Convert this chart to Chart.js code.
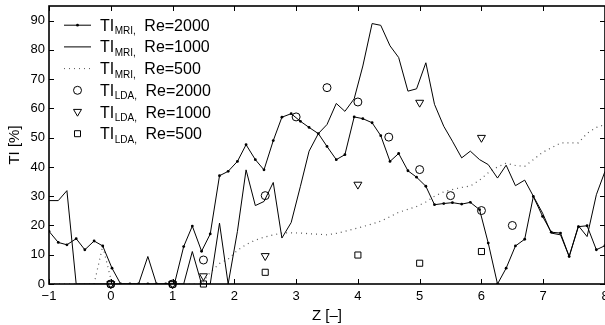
<!DOCTYPE html>
<html><head><meta charset="utf-8">
<script src="https://cdn.jsdelivr.net/npm/chart.js@4/dist/chart.umd.min.js"></script>
<style>html,body{margin:0;padding:0;background:#fff}canvas{display:block}</style>
</head><body>
<canvas id="c" width="605" height="325"></canvas>
<script>
// ---- data ----
const zMRI = [-1.00,-0.85,-0.71,-0.56,-0.42,-0.27,-0.13,0.02,0.16,0.31,0.45,0.60,0.74,0.89,1.03,1.18,1.32,1.47,1.61,1.76,1.90,2.05,2.19,2.34,2.48,2.63,2.77,2.92,3.07,3.21,3.36,3.50,3.65,3.79,3.94,4.08,4.23,4.37,4.52,4.66,4.81,4.95,5.10,5.24,5.39,5.53,5.68,5.82,5.97,6.11,6.26,6.40,6.55,6.70,6.84,6.99,7.13,7.28,7.42,7.57,7.71,7.86,8.00];
const tiMRI2000 = [18,14.2,13.4,15.5,11.7,14.7,13,5.4,0,0,0,0,0,0,0,12.8,19.8,11.2,17.1,37,38.5,41.9,47.6,42.5,39,49,57,58.2,55.6,53.5,51.4,47,42.5,44.2,57.1,56.5,55.1,50.7,41.9,44.6,38.7,36.5,33.4,27.1,27.5,27.8,27.3,27.9,25.4,14,0,5.4,13,15.3,29.9,23.1,17.7,17.4,9.4,19.6,19.9,11.7,13.1];
const tiMRI1000 = [28.5,28.5,31.9,0,0,0,0,0,0,0,0,9.4,0,0,0,0,11.1,0,0,20.8,0,18,39,26.8,28.2,34.7,15.7,21,33.4,45.4,51.4,54.5,61.7,59,63.3,74.5,89,88.4,81.4,77.4,65.9,66.7,75.6,61.4,53.9,48.8,43.1,45.4,42.5,40.8,36.2,40.6,33.6,35.5,30,24.2,17.4,16.8,9.4,19.9,16.2,30.5,38.5];
const tiMRI500 = [0,0,0,0,0,0,13,0,0,0,0,0,0,0,0,0,0,0,4,7,8.5,11.5,13.5,15,16,16.8,17.4,17.5,17.4,17.2,17,16.8,17.3,18,18.8,19.6,20.5,21.5,23,24.5,25.5,26.5,28,30,31.5,32.3,33,33.5,35.5,38,40,41.3,40.5,40.2,42.5,45,46.5,48.2,48.2,48.2,51.5,53.5,54.5];
const zLDA2000 = [0,1,1.5,2.5,3,3.5,4,4.5,5,5.5,6,6.5];
const tiLDA2000 = [0,0,8.2,30.2,57.1,67.1,62.2,50.2,39.1,30.2,25.1,20];
const zLDA = [0,1,1.5,2.5,4,5,6];
const tiLDA1000 = [0,0,2.7,9.6,34,62,50];
const tiLDA500 = [0,0,0,4,9.9,7.1,11.1];
const xTicks = [-1,0,1,2,3,4,5,6,7,8];
const yTicks = [0,10,20,30,40,50,60,70,80,90];
const xTitle = 'Z [\u2013]';
const yTitle = 'TI [%]';
const legendRows = [
  {main:'TI', sub:'MRI', rest:'Re=2000', style:'lineDot'},
  {main:'TI', sub:'MRI', rest:'Re=1000', style:'line'},
  {main:'TI', sub:'MRI', rest:'Re=500', style:'dotted'},
  {main:'TI', sub:'LDA', rest:'Re=2000', style:'circle'},
  {main:'TI', sub:'LDA', rest:'Re=1000', style:'triangle'},
  {main:'TI', sub:'LDA', rest:'Re=500', style:'square'}
];

const FONT = '"Liberation Sans", Arial, Helvetica, sans-serif';
const pts = (xs, ys) => xs.map((x, i) => ({x: x, y: ys[i]}));

function drawMarker(ctx, style, x, y) {
  ctx.beginPath();
  if (style === 'circle') {
    ctx.arc(x, y, 4, 0, Math.PI * 2);
  } else if (style === 'triangle') {
    ctx.moveTo(x - 4, y - 2.6); ctx.lineTo(x + 4, y - 2.6); ctx.lineTo(x, y + 4.2); ctx.closePath();
  } else if (style === 'square') {
    ctx.rect(x - 3, y - 3, 6, 6);
  }
  ctx.stroke();
}

const framePlugin = {
  id: 'frame',
  afterDraw(chart) {
    const ctx = chart.ctx;
    const {left, right, top, bottom} = chart.chartArea;
    const xs = chart.scales.x, ys = chart.scales.y;
    ctx.save();
    ctx.strokeStyle = '#000';
    ctx.lineWidth = 1.6;
    ctx.strokeRect(left, top, right - left, bottom - top);
    ctx.lineWidth = 1;
    ctx.beginPath();
    xTicks.forEach(v => {
      const p = Math.round(xs.getPixelForValue(v)) + 0.5;
      ctx.moveTo(p, bottom); ctx.lineTo(p, bottom - 5);
      ctx.moveTo(p, top); ctx.lineTo(p, top + 5);
    });
    yTicks.forEach(v => {
      const p = Math.round(ys.getPixelForValue(v)) + 0.5;
      ctx.moveTo(left, p); ctx.lineTo(left + 5, p);
      ctx.moveTo(right, p); ctx.lineTo(right - 5, p);
    });
    ctx.stroke();

    // axis titles
    ctx.fillStyle = '#000';
    ctx.font = '15px ' + FONT;
    ctx.textAlign = 'center';
    ctx.textBaseline = 'middle';
    ctx.fillText(xTitle, (left + right) / 2, 316);
    ctx.save();
    ctx.translate(15, (top + bottom) / 2);
    ctx.rotate(-Math.PI / 2);
    ctx.fillText(yTitle, 0, 0);
    ctx.restore();

    // legend
    ctx.textAlign = 'left';
    ctx.textBaseline = 'alphabetic';
    legendRows.forEach((r, k) => {
      const base = 30.7 + 21.7 * k;
      const mid = base - 5.5;
      ctx.lineWidth = 1;
      ctx.strokeStyle = '#000';
      if (r.style === 'lineDot' || r.style === 'line') {
        ctx.beginPath(); ctx.moveTo(64, mid); ctx.lineTo(91, mid); ctx.stroke();
        if (r.style === 'lineDot') { ctx.beginPath(); ctx.arc(77.5, mid, 1.4, 0, Math.PI * 2); ctx.fillStyle = '#000'; ctx.fill(); }
      } else if (r.style === 'dotted') {
        ctx.save(); ctx.strokeStyle = '#555'; ctx.setLineDash([1, 4]);
        ctx.beginPath(); ctx.moveTo(64, mid); ctx.lineTo(91, mid); ctx.stroke(); ctx.restore();
      } else {
        drawMarker(ctx, r.style, 77.5, mid);
      }
      ctx.fillStyle = '#000';
      ctx.font = '16px ' + FONT;
      ctx.fillText(r.main, 100, base);
      let xx = 100 + ctx.measureText(r.main).width + 0.5;
      ctx.font = '10px ' + FONT;
      ctx.fillText(r.sub + ',', xx, base + 3.6);
      xx += ctx.measureText(r.sub + ',').width + 8.5;
      ctx.font = '16px ' + FONT;
      ctx.fillText(r.rest, xx, base);
    });
    ctx.restore();
  }
};

const markerStyle = (style, rot, r) => ({
  showLine: false, pointStyle: style, rotation: rot, pointRadius: r,
  borderColor: '#000', backgroundColor: 'rgba(0,0,0,0)', pointBorderWidth: 1, clip: false
});

new Chart(document.getElementById('c'), {
  type: 'line',
  data: {
    datasets: [
      {data: pts(zMRI, tiMRI2000), borderColor: '#000', borderWidth: 1, pointRadius: 1.4, pointBackgroundColor: '#000', pointBorderWidth: 0, tension: 0},
      {data: pts(zMRI, tiMRI1000), borderColor: '#000', borderWidth: 1, pointRadius: 0, tension: 0},
      {data: pts(zMRI, tiMRI500), borderColor: '#555', borderWidth: 1.2, borderDash: [1, 4], pointRadius: 0, tension: 0},
      Object.assign({data: pts(zLDA2000, tiLDA2000)}, markerStyle('circle', 0, 4)),
      Object.assign({data: pts(zLDA, tiLDA1000)}, markerStyle('triangle', 180, 4.6)),
      Object.assign({data: pts(zLDA, tiLDA500)}, markerStyle('rect', 0, 4.3))
    ]
  },
  options: {
    responsive: false, animation: false, devicePixelRatio: 1,
    layout: {autoPadding: false, padding: {top: 6, right: 0, left: 0, bottom: 0}},
    plugins: {legend: {display: false}, tooltip: {enabled: false}},
    scales: {
      x: {
        type: 'linear', min: -1, max: 8,
        afterBuildTicks: s => { s.ticks = xTicks.map(v => ({value: v})); },
        afterFit: s => { s.height = 41; s.paddingLeft = 0; s.paddingRight = 0; },
        ticks: {color: '#000', font: {family: FONT, size: 13}, padding: 5, maxRotation: 0, autoSkip: false,
          callback: v => (v < 0 ? '\u2212' + Math.abs(v) : String(v))},
        grid: {display: false, drawTicks: false},
        border: {display: false}
      },
      y: {
        type: 'linear', min: 0, max: 95,
        afterBuildTicks: s => { s.ticks = yTicks.map(v => ({value: v})); },
        afterFit: s => { s.width = 49; s.paddingTop = 0; s.paddingBottom = 0; },
        ticks: {color: '#000', font: {family: FONT, size: 13}, padding: 4, autoSkip: false},
        grid: {display: false, drawTicks: false},
        border: {display: false}
      }
    }
  },
  plugins: [framePlugin]
});
</script>
</body></html>
